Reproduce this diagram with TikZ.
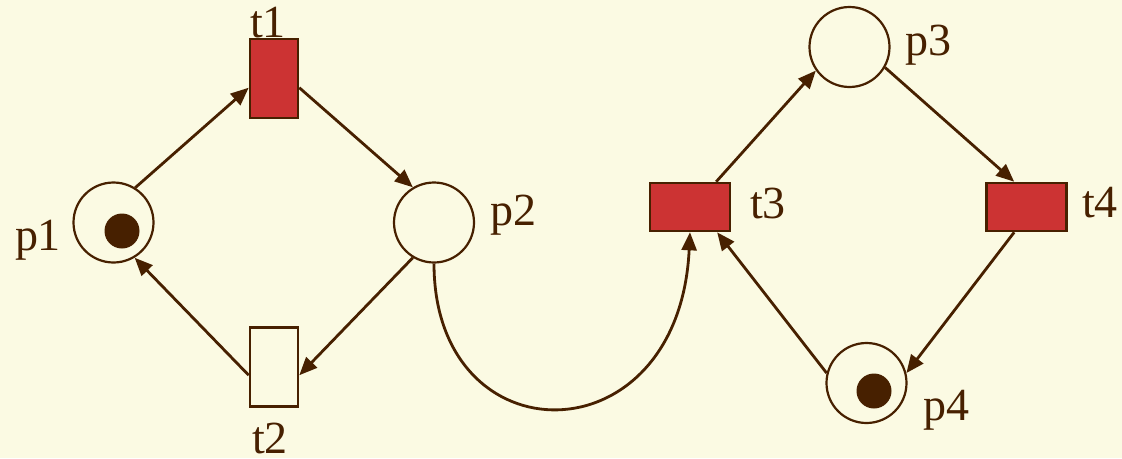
\documentclass[tikz,border=0pt]{standalone}
\usepackage{fontspec}
\setmainfont{Liberation Serif}
\usetikzlibrary{arrows.meta}
\definecolor{bg}{HTML}{FBFAE3}
\definecolor{ink}{HTML}{472000}
\definecolor{tred}{HTML}{CC3333}
\begin{document}
\begin{tikzpicture}[x=1pt,y=-1pt,
  place/.style={circle,draw=ink,line width=2.2pt,minimum size=80pt,inner sep=0pt},
  token/.style={circle,fill=ink,minimum size=35pt,inner sep=0pt},
  vtrans/.style={rectangle,draw=ink,line width=2.6pt,minimum width=48pt,minimum height=79pt,inner sep=0pt},
  htrans/.style={rectangle,draw=ink,line width=2.6pt,minimum width=80pt,minimum height=48pt,inner sep=0pt,fill=tred},
  lbl/.style={text=ink,font=\fontsize{46}{46}\selectfont,inner sep=0pt},
  arc/.style={draw=ink,line width=2.8pt,-{Triangle[length=18pt,width=15pt]}}]
\fill[bg] (0,0) rectangle (1122,458);
\useasboundingbox (0,0) rectangle (1122,458);
% places
\node[place] (p1) at (113.5,222.5) {};
\node[place] (p2) at (434,222.5) {};
\node[place] (p3) at (849.5,47) {};
\node[place] (p4) at (866.5,383) {};
\node[token] (k1) at (122,231) {};
\node[token] (k4) at (874,391) {};
% transitions
\node[vtrans,fill=tred] (t1) at (274,78.5) {};
\node[vtrans,fill=bg] (t2) at (274,367) {};
\node[htrans] (t3) at (690,207) {};
\node[htrans] (t4) at (1026.5,207) {};
% labels
\node[lbl] (lp1) at (38,240) {p1};
\node[lbl] (lp2) at (513,215) {p2};
\node[lbl] (lp3) at (928,45) {p3};
\node[lbl] (lp4) at (946,410) {p4};
\node[lbl] (lt1) at (268,23) {t1};
\node[lbl] (lt2) at (270,438) {t2};
\node[lbl] (lt3) at (768,203) {t3};
\node[lbl] (lt4) at (1100,203) {t4};
% arcs
\draw[arc] (p1.58) -- (t1.200);
\draw[arc] (t1.-20) -- (p2.121);
\draw[arc] (p2.239) -- (t2.-18);
\draw[arc] (t2.198) -- (p1.-59);
\draw[arc] (p2.south) .. controls +(0,197) and +(-11,229) .. (t3.south);
\draw[arc] (t3.44) -- (p3.215);
\draw[arc] (p3.-30) -- (t4.116);
\draw[arc] (t4.244) -- (p4.14);
\draw[arc] (p4.166) -- (t3.-43);
\end{tikzpicture}
\end{document}
